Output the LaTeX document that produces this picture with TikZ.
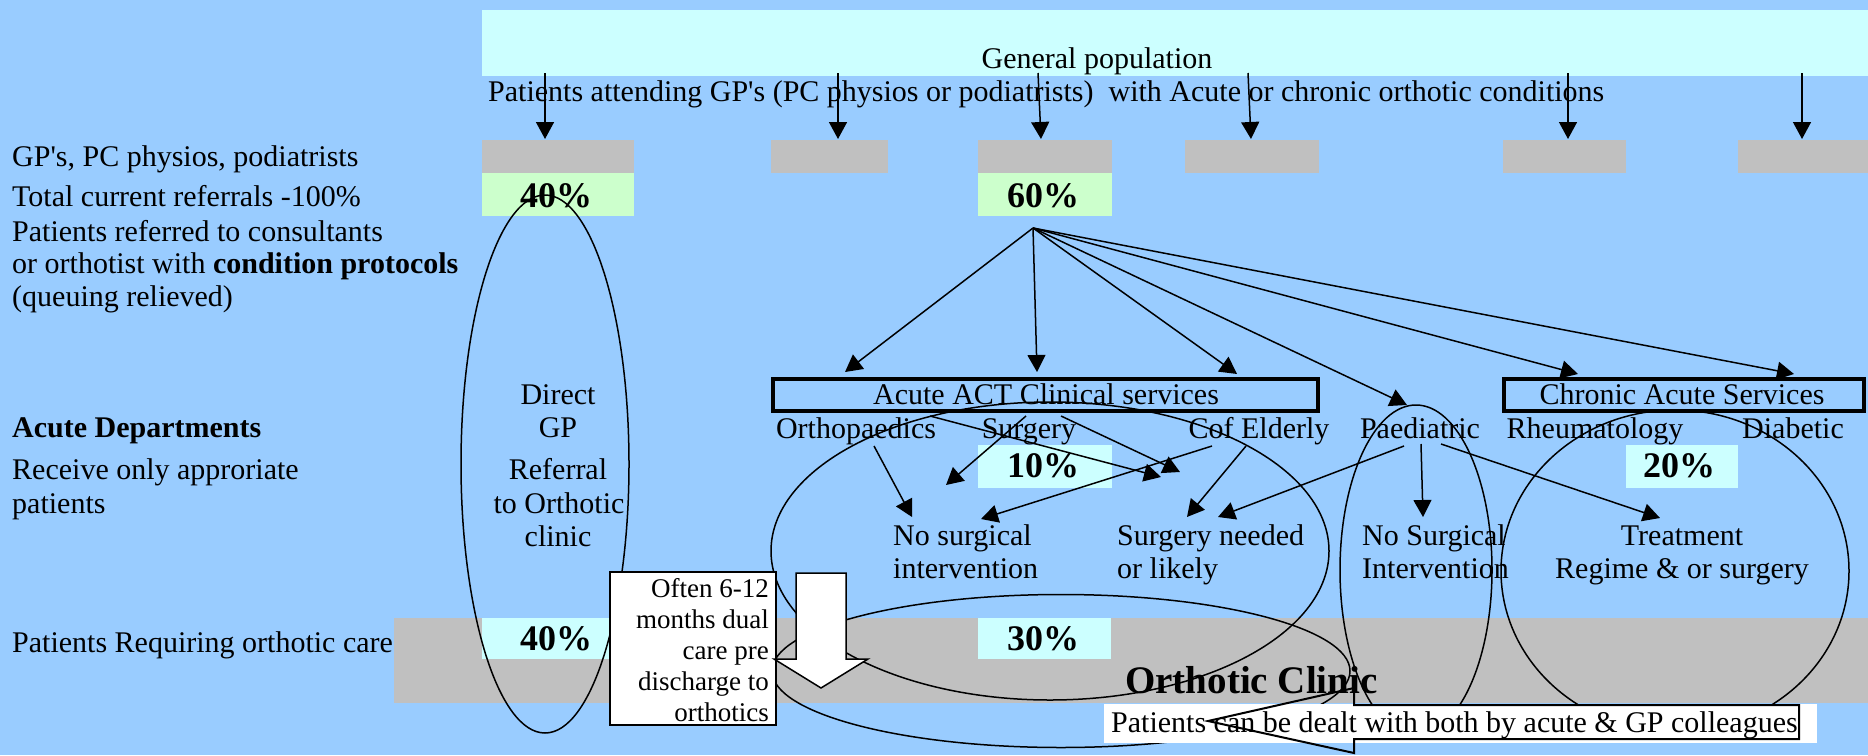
\documentclass[tikz,border=0pt]{standalone}
\usepackage{fontspec}
\setmainfont{Liberation Serif}
\usetikzlibrary{arrows.meta,shapes.geometric}
\definecolor{bgblue}{HTML}{99CCFF}
\definecolor{paleCyan}{HTML}{CCFFFF}
\definecolor{boxgrey}{HTML}{C0C0C0}
\definecolor{paleGreen}{HTML}{CCFFCC}
\begin{document}
\begin{tikzpicture}[x=1pt,y=-1pt,
  rect/.style={draw=none,inner sep=0pt,outer sep=0pt,anchor=north west},
  txt/.style={font=\fontsize{30}{33}\selectfont,inner sep=0pt},
  lbl/.style={txt,anchor=base west},
  ctr/.style={txt,anchor=base},
  pct/.style={font=\fontsize{36}{40}\selectfont\bfseries,inner sep=0pt,anchor=base},
  smalltxt/.style={font=\fontsize{27}{30}\selectfont,inner sep=0pt,anchor=base east},
  arr/.style={-{Triangle[length=17pt,width=18pt]},line width=1.5pt},
  thinline/.style={line width=1.5pt},
  ell/.style={draw,ellipse,line width=1.5pt,inner sep=0pt,outer sep=0pt},
  thickbox/.style={draw,line width=4pt,inner sep=0pt,outer sep=0pt,anchor=north west}]
\useasboundingbox (0,0) rectangle (1868,755);
\fill[bgblue] (0,0) rectangle (1868,755);

% boxes
\node[rect,fill=paleCyan,minimum width=1386pt,minimum height=66pt] (genpop) at (482,10) {};
\node[rect,fill=boxgrey,minimum width=152pt,minimum height=33pt] (gp1) at (482,140) {};
\node[rect,fill=boxgrey,minimum width=117pt,minimum height=33pt] (gp2) at (771,140) {};
\node[rect,fill=boxgrey,minimum width=134pt,minimum height=33pt] (gp3) at (978,140) {};
\node[rect,fill=boxgrey,minimum width=134pt,minimum height=33pt] (gp4) at (1185,140) {};
\node[rect,fill=boxgrey,minimum width=123pt,minimum height=33pt] (gp5) at (1503,140) {};
\node[rect,fill=boxgrey,minimum width=130pt,minimum height=33pt] (gp6) at (1738,140) {};
\node[rect,fill=paleGreen,minimum width=152pt,minimum height=43pt] (gr1) at (482,173) {};
\node[rect,fill=paleGreen,minimum width=134pt,minimum height=43pt] (gr2) at (978,173) {};
\node[rect,fill=boxgrey,minimum width=1474pt,minimum height=85pt] (band) at (394,618) {};
\node[rect,fill=paleCyan,minimum width=134pt,minimum height=41pt] (pc40) at (482,618) {};
\node[rect,fill=paleCyan,minimum width=133pt,minimum height=41pt] (pc30) at (978,618) {};
\node[rect,fill=paleCyan,minimum width=134pt,minimum height=43pt] (pc10) at (978,445) {};
\node[rect,fill=paleCyan,minimum width=112pt,minimum height=43pt] (pc20) at (1626,445) {};

% thick boxes
\node[thickbox,minimum width=545pt,minimum height=32pt] (acute) at (773,379) {};
\node[thickbox,minimum width=360pt,minimum height=32pt] (chronic) at (1504,379) {};

% texts top
\node[ctr] (genpopT) at (1097,68) {General population};
\node[lbl] (attend) at (488,101) {Patients attending GP\textquotesingle s (PC physios or podiatrists)\ \ with Acute or chronic orthotic conditions};

% left column
\node[lbl] (l1) at (12,166) {GP\textquotesingle s, PC physios, podiatrists};
\node[lbl] (l2) at (12,206) {Total current referrals -100\%};
\node[lbl] (l3) at (12,241) {Patients referred to consultants};
\node[lbl] (l4) at (12,273) {or orthotist with \textbf{condition protocols}};
\node[lbl] (l5) at (12,306) {(queuing relieved)};
\node[lbl,font=\fontsize{30}{33}\selectfont\bfseries] (l6) at (12,437) {Acute Departments};
\node[lbl] (l7) at (12,479) {Receive only approriate};
\node[lbl] (l8) at (12,513) {patients};
\node[lbl] (l9) at (12,652) {Patients Requiring orthotic care};

% direct GP
\node[ctr] (d1) at (558,404) {Direct};
\node[ctr] (d2) at (558,437) {GP};
\node[ctr] (d3) at (558,479) {Referral};
\node[ctr] (d4) at (559,513) {to Orthotic};
\node[ctr] (d5) at (558,546) {clinic};

% percents
\node[pct] (p40a) at (556,207) {40\%};
\node[pct] (p60) at (1043,207) {60\%};
\node[pct] (p10) at (1043,477) {10\%};
\node[pct] (p20) at (1679,477) {20\%};
\node[pct] (p30) at (1043,650) {30\%};
\node[pct] (p40b) at (556,650) {40\%};

% box titles
\node[ctr] (acuteT) at (1046,404) {Acute ACT Clinical services};
\node[ctr] (chronT) at (1682,404) {Chronic Acute Services};

% departments
\node[ctr] (ortho) at (856,438) {Orthopaedics};
\node[ctr] (surg) at (1029,438) {Surgery};
\node[ctr] (eld) at (1259,438) {Cof Elderly};
\node[ctr] (paed) at (1420,438) {Paediatric};
\node[ctr] (rheum) at (1595,438) {Rheumatology};
\node[ctr] (diab) at (1793,438) {Diabetic};

% outcomes
\node[lbl] (nos1) at (893,545) {No surgical};
\node[lbl] (nos2) at (893,578) {intervention};
\node[lbl] (sn1) at (1117,545) {Surgery needed};
\node[lbl] (sn2) at (1117,578) {or likely};
\node[lbl] (nS1) at (1362,545) {No Surgical};
\node[lbl] (nS2) at (1362,578) {Intervention};
\node[ctr] (tr1) at (1682,545) {Treatment};
\node[ctr] (tr2) at (1682,578) {Regime \& or surgery};

\node[font=\fontsize{39}{42}\selectfont\bfseries,inner sep=0pt,anchor=base west] (clinic) at (1125,693) {Orthotic Clinic};

% ellipses
\node[ell,minimum width=168pt,minimum height=538pt] (ellL) at (545,464) {};
\node[ell,minimum width=558pt,minimum height=298pt] (ellA) at (1050,551) {};
\node[ell,minimum width=578pt,minimum height=153pt] (ellB) at (1061,671) {};
\node[ell,minimum width=152pt,minimum height=330pt] (ellC) at (1416,570) {};
\node[ell,minimum width=348pt,minimum height=322pt] (ellD) at (1675,571) {};

% arrows from general population
\foreach \i/\xa/\xb in {1/545/545,2/838/838,3/1038/1041,4/1248/1251,5/1568/1568,6/1802/1802}{
  \coordinate (ts\i) at (\xa,73);
  \coordinate (te\i) at (\xb,139);
  \draw[arr] (ts\i) -- (te\i);
}

% hub arrows
\coordinate (hub) at (1033,228);
\coordinate (h1) at (845,372);
\coordinate (h2) at (1037,372);
\coordinate (h3) at (1237,374);
\coordinate (h4) at (1407,405);
\coordinate (h5) at (1578,374);
\coordinate (h6) at (1794,374);
\foreach \k in {1,...,6}{\draw[arr] (hub) -- (h\k);}

% department arrows
\coordinate (a1s) at (874,446); \coordinate (a1e) at (912,517);
\coordinate (a2s) at (1026,416); \coordinate (a2e) at (946,485);
\coordinate (a3s) at (930,416); \coordinate (a3e) at (1161,477);
\coordinate (a4s) at (1061,416); \coordinate (a4e) at (1180,472);
\coordinate (a5s) at (1212,446); \coordinate (a5e) at (981,519);
\coordinate (a6s) at (1246,446); \coordinate (a6e) at (1187,517);
\coordinate (a7s) at (1404,446); \coordinate (a7e) at (1218,517);
\coordinate (a8s) at (1421,444); \coordinate (a8e) at (1423,517);
\coordinate (a9s) at (1441,444); \coordinate (a9e) at (1660,518);
\foreach \k in {1,...,9}{\draw[arr] (a\k s) -- (a\k e);}

% Often box
\node[rect,draw,fill=white,line width=1.5pt,minimum width=166pt,minimum height=153pt] (often) at (610,572) {};
\node[smalltxt] (o1) at (769,597) {Often 6-12};
\node[smalltxt] (o2) at (769,628) {months dual};
\node[smalltxt] (o3) at (769,659) {care pre};
\node[smalltxt] (o4) at (769,690) {discharge to};
\node[smalltxt] (o5) at (769,721) {orthotics};

% block arrow
\draw[line width=1.5pt,fill=white] (796,573) -- (846,573) -- (846,659) -- (868,659) -- (821,688) -- (774,659) -- (796,659) -- cycle;

% callout
\node[rect,fill=white,minimum width=713pt,minimum height=39pt] (calloutbg) at (1104,704) {};
\draw[line width=2pt] (1354,705) -- (1354,688) -- (1208,721) -- (1354,753) -- (1354,739) -- (1799,739) -- (1799,705) -- cycle;
\node[lbl] (callT) at (1111,732) {Patients can be dealt with both by acute \& GP colleagues};
\end{tikzpicture}
\end{document}
